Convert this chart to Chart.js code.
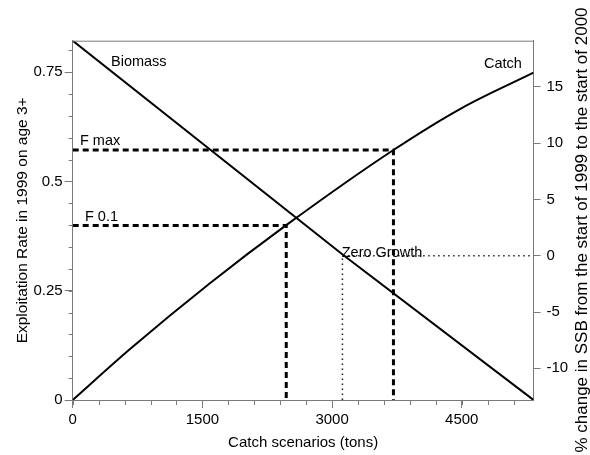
<!DOCTYPE html>
<html>
<head>
<meta charset="utf-8">
<script src="https://cdn.jsdelivr.net/npm/chart.js@4.4.1/dist/chart.umd.min.js"></script>
<style>
  html, body { margin: 0; padding: 0; background: #fff; }
  #wrap { width: 590px; height: 455px; }
</style>
</head>
<body>
<div id="wrap"><canvas id="chart"></canvas></div>
<script>
// catch scenarios (tons) against exploitation rate
const catchTons   = [0, 660, 1580, 2470, 3710, 4500, 5330];
const exploitRate = [0, 0.116, 0.266, 0.4, 0.572, 0.668, 0.749];

// % change in SSB (right axis)
const biomassTons = [0, 3140, 5330];
const ssbChange   = [19.09, 0, -12.81];

// reference points
const fMaxTons = 3710, fMaxRate = 0.572;
const f01Tons = 2470, f01Rate = 0.399;
const zeroGrowthTons = 3120;

const xTicks  = [0, 1500, 3000, 4500];
const yTicks  = [0, 0.25, 0.5, 0.75];
const y1Ticks = [-10, -5, 0, 5, 10, 15];

const xMax = 5330, yMax = 0.822, y1Min = -12.81, y1Max = 19.09;

// text labels placed in data units (x, left axis)
const notes = [
  { text: 'Biomass', x: 443, y: 0.763 },
  { text: 'Catch', x: 4758, y: 0.759 },
  { text: 'F max', x: 84, y: 0.5835 },
  { text: 'F 0.1', x: 142, y: 0.41 },
  { text: 'Zero Growth', x: 3112, y: 0.328 },
];

const axisGrey = '#7a7a7a';
Chart.defaults.font.family = '"Liberation Sans", Arial, sans-serif';
Chart.defaults.color = '#000';

const extras = {
  id: 'extras',
  afterDraw(chart) {
    const { ctx, chartArea: a, scales: { x, y } } = chart;
    ctx.save();
    ctx.strokeStyle = axisGrey;
    ctx.lineWidth = 1;
    // top frame line
    ctx.beginPath();
    ctx.moveTo(a.left, a.top + 0.5);
    ctx.lineTo(a.right, a.top + 0.5);
    ctx.stroke();
    // minor ticks
    ctx.beginPath();
    for (let v = 0; v <= 5100; v += 300) {
      const px = Math.round(x.getPixelForValue(v)) + 0.5;
      ctx.moveTo(px, a.bottom);
      ctx.lineTo(px, a.bottom + 5);
    }
    for (let i = 0; i <= 16; i++) {
      const py = Math.round(y.getPixelForValue(i * 0.05)) + 0.5;
      ctx.moveTo(a.left - 4, py);
      ctx.lineTo(a.left, py);
    }
    ctx.stroke();

    ctx.fillStyle = '#000';
    ctx.font = '14.5px "Liberation Sans", Arial, sans-serif';
    ctx.textBaseline = 'alphabetic';
    ctx.textAlign = 'left';
    notes.forEach(n => ctx.fillText(n.text, x.getPixelForValue(n.x), y.getPixelForValue(n.y)));

    // right axis title, reading upward
    ctx.font = '17px "Liberation Sans", Arial, sans-serif';
    ctx.translate(587, 230);
    ctx.rotate(-Math.PI / 2);
    ctx.textAlign = 'center';
    ctx.fillText('% change in SSB from the start of 1999 to the start of 2000', 0, 0);
    ctx.restore();
  }
};

const pts = (xs, ys) => xs.map((v, i) => ({ x: v, y: ys[i] }));

new Chart(document.getElementById('chart'), {
  type: 'line',
  data: {
    datasets: [
      {
        label: 'Catch',
        data: pts(catchTons, exploitRate),
        yAxisID: 'y',
        borderColor: '#000',
        borderWidth: 2,
        pointRadius: 0,
        cubicInterpolationMode: 'monotone',
      },
      {
        label: 'Biomass',
        data: pts(biomassTons, ssbChange),
        yAxisID: 'y1',
        borderColor: '#000',
        borderWidth: 2,
        pointRadius: 0,
      },
      {
        label: 'F max',
        data: [{ x: 0, y: fMaxRate }, { x: fMaxTons, y: fMaxRate }, { x: fMaxTons, y: 0 }],
        yAxisID: 'y',
        borderColor: '#000',
        borderWidth: 3,
        borderDash: [6, 4],
        pointRadius: 0,
      },
      {
        label: 'F 0.1',
        data: [{ x: 0, y: f01Rate }, { x: f01Tons, y: f01Rate }, { x: f01Tons, y: 0 }],
        yAxisID: 'y',
        borderColor: '#000',
        borderWidth: 3,
        borderDash: [6, 4],
        pointRadius: 0,
      },
      {
        label: 'Zero Growth',
        data: [{ x: zeroGrowthTons, y: y1Min }, { x: zeroGrowthTons, y: 0 }, { x: xMax, y: 0 }],
        yAxisID: 'y1',
        borderColor: '#222',
        borderWidth: 1.5,
        borderDash: [1.5, 3.5],
        pointRadius: 0,
      },
    ],
  },
  options: {
    responsive: true,
    maintainAspectRatio: false,
    animation: false,
    layout: { padding: { top: 40.7, left: 0, right: 0, bottom: 0 } },
    plugins: { legend: { display: false }, tooltip: { enabled: false } },
    scales: {
      x: {
        type: 'linear',
        min: 0,
        max: xMax,
        border: { color: axisGrey },
        grid: { drawOnChartArea: false, tickLength: 8, tickColor: axisGrey },
        afterBuildTicks: s => { s.ticks = xTicks.map(v => ({ value: v })); },
        afterFit: s => { s.height = 55; },
        ticks: { font: { size: 15 }, padding: 3, maxRotation: 0, callback: v => String(v) },
        title: {
          display: true,
          text: 'Catch scenarios (tons)',
          font: { size: 15 },
          padding: { top: 0, bottom: 3 },
        },
      },
      y: {
        type: 'linear',
        position: 'left',
        min: 0,
        max: yMax,
        border: { color: axisGrey },
        grid: { drawOnChartArea: false, tickLength: 8, tickColor: axisGrey },
        afterBuildTicks: s => { s.ticks = yTicks.map(v => ({ value: v })); },
        afterFit: s => { s.width = 72.7; },
        ticks: { font: { size: 15 }, padding: 2, callback: v => String(v) },
        title: {
          display: true,
          text: 'Exploitation Rate in 1999 on age 3+',
          font: { size: 15.5 },
          padding: { top: 13, bottom: 0 },
        },
      },
      y1: {
        type: 'linear',
        position: 'right',
        min: y1Min,
        max: y1Max,
        border: { color: axisGrey },
        grid: { drawOnChartArea: false, tickLength: 7, tickColor: axisGrey },
        afterBuildTicks: s => { s.ticks = y1Ticks.map(v => ({ value: v })); },
        afterFit: s => { s.width = 56.5; },
        ticks: { font: { size: 15 }, padding: 6, callback: v => String(v) },
      },
    },
  },
  plugins: [extras],
});
</script>
</body>
</html>
